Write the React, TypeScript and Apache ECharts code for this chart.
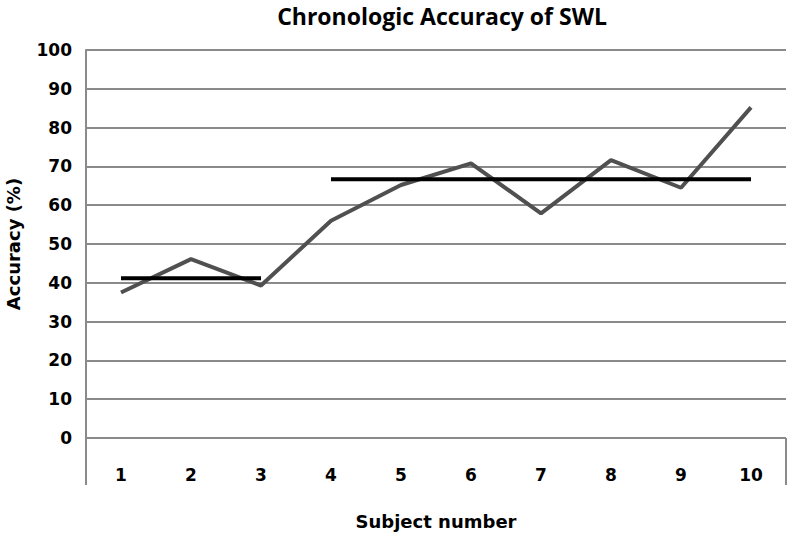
import React, { useEffect, useRef } from "react";
import * as echarts from "echarts";

const subjects = ["1", "2", "3", "4", "5", "6", "7", "8", "9", "10"];
const accuracy = [37.5, 46.1, 39.3, 56.0, 65.2, 70.8, 57.9, 71.6, 64.5, 85.2];
const meanEarly = [41.2, 41.2, 41.2, null, null, null, null, null, null, null];
const meanLate = [null, null, null, 66.7, 66.7, 66.7, 66.7, 66.7, 66.7, 66.7];
const yTicks = { min: 0, max: 100, interval: 10 };

export default function App() {
  const ref = useRef<HTMLDivElement>(null);
  useEffect(() => {
    if (!ref.current) return;
    const chart = echarts.init(ref.current, undefined, { renderer: "svg" });
    const font = "'DejaVu Sans', sans-serif";
    chart.setOption({
      animation: false,
      backgroundColor: "#ffffff",
      title: {
        text: "Chronologic Accuracy of SWL",
        left: 437,
        textAlign: "center",
        top: -1,
        textStyle: { fontFamily: "'Open Sans', sans-serif", fontWeight: "bold", fontSize: 23, color: "#000" },
      },
      grid: { left: 86, right: 2, top: 50, bottom: 98, containLabel: false, outerBoundsMode: "none" },
      xAxis: [
        {
          type: "category",
          data: subjects,
          boundaryGap: true,
          axisLine: { show: false },
          axisTick: { show: false },
          axisLabel: { fontFamily: font, fontWeight: "bold", fontSize: 17, color: "#000", margin: 28 },
          name: "Subject number",
          nameLocation: "middle",
          nameGap: 74,
          nameTextStyle: { fontFamily: font, fontWeight: "bold", fontSize: 18, color: "#000" },
        },
        {
          type: "value",
          min: 0,
          max: 1,
          interval: 1,
          position: "bottom",
          axisLine: { show: false },
          axisLabel: { show: false },
          splitLine: { show: false },
          axisTick: { show: true, length: 47, lineStyle: { color: "#8a8a8a", width: 2 } },
        },
      ],
      yAxis: {
        type: "value",
        min: yTicks.min,
        max: yTicks.max,
        interval: yTicks.interval,
        axisLine: { show: true, lineStyle: { color: "#8a8a8a", width: 2 } },
        axisTick: { show: false },
        splitLine: { show: true, lineStyle: { color: "#8a8a8a", width: 2 } },
        axisLabel: { fontFamily: font, fontWeight: "bold", fontSize: 17, color: "#000", margin: 14 },
        name: "Accuracy (%)",
        nameLocation: "middle",
        nameGap: 64,
        nameTextStyle: { fontFamily: font, fontWeight: "bold", fontSize: 18, color: "#000" },
      },
      series: [
        {
          type: "line",
          data: accuracy,
          symbol: "none",
          lineStyle: { color: "#505050", width: 4 },
          z: 3,
        },
        {
          type: "line",
          data: meanEarly,
          symbol: "none",
          lineStyle: { color: "#000", width: 4 },
          z: 4,
        },
        {
          type: "line",
          data: meanLate,
          symbol: "none",
          lineStyle: { color: "#000", width: 4 },
          z: 4,
        },
      ],
    });
    return () => chart.dispose();
  }, []);
  return <div ref={ref} style={{ width: 788, height: 536, position: "absolute", left: 0, top: 0 }} />;
}
